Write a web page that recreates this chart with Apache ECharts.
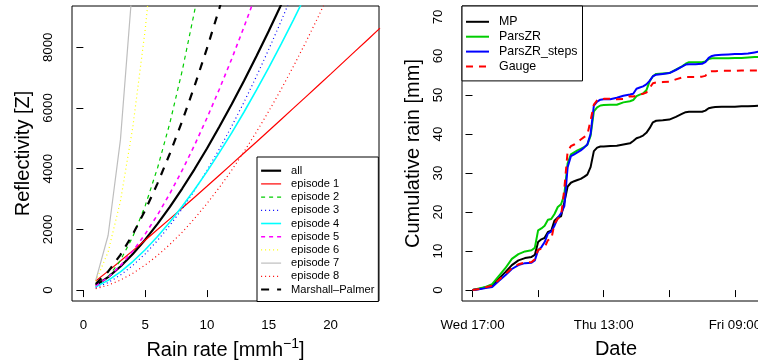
<!DOCTYPE html>
<html><head><meta charset="utf-8">
<script src="https://cdn.jsdelivr.net/npm/echarts@6/dist/echarts.min.js"></script>
<style>html,body{margin:0;padding:0;background:#fff}#c{width:758px;height:361px}</style>
</head><body><div id="c"></div>
<script>
// ---------- Left panel: Z-R relations ----------
const rainRate = [1,2,3,4,5,6,7,8,9,10,11,12,13,14,15,16,17,18,19,20,21,22,23,24];
const zAll = [151,424,776,1191,1661,2180,2742,3346,3988,4666,5379,6120,6899,7706,8539,9400,10288];
const zEp1 = [300,624,958,1299,1644,1994,2346,2702,3060,3420,3783,4149,4515,4881,5250,5622,5994,6366,6741,7116,7494,7872,8250,8631];
const zEp2 = [104,428,978,1759,2773,4022,5508,7233,9198,11404];
const zEp3 = [74,246,494,812,1193,1634,2131,2682,3286,3941,4645,5397,6193,7039,7931,8861,9836,10855];
const zEp4 = [109,320,601,940,1330,1765,2242,2760,3314,3903,4527,5182,5867,6586,7330,8102,8903,9732];
const zEp5 = [136,418,806,1285,1844,2478,3181,3949,4779,5670,6618,7616,8673,9777];
const zEp6 = [292,1252,2933,5367,8574,12574];
const zEp7 = [318,1799,4957,10176];
const zEp8 = [46,159,329,552,823,1141,1504,1910,2359,2850,3380,3950,4560,5207,5893,6615,7374,8170,9002,9867];
const zMP  = [200,606,1160,1838,2627,3516,4500,5572,6727,7962,9276,10658];
const rainTicks = [0,5,10,15,20];
const zTicks = [0,2000,4000,6000,8000];

// ---------- Right panel: cumulative rain ----------
const hours = [0,1,2,3,4,5,6,7,8,9,9.5,10,10.5,11,11.5,12,12.5,13,13.5,14,14.5,15,15.5,16,16.5,17,17.5,18,18.5,19,19.5,20,21,22,23,24,24.5,25,25.5,26,26.5,27,27.5,28,29,30,31,32,32.5,33,34,35,35.5,36,36.5,37,38,39,40,41,42,43,44];
const cumMP = [0,0.3,0.7,1.2,2.9,4.6,6.4,7.6,8.2,8.5,9.0,12.3,13.0,13.4,14.9,15.2,17.8,18.6,18.9,22.5,26.5,27.5,27.9,28.2,28.5,29.0,29.6,31.5,35.6,36.5,36.8,36.8,36.9,37.0,37.3,37.6,38.2,38.9,39.2,39.6,40.3,41.5,43.0,43.4,43.5,43.7,44.4,45.2,45.6,45.7,45.7,45.7,46.0,46.6,46.8,46.9,47.0,47.0,47.0,47.1,47.1,47.2,47.3];
const cumParsZR = [0,0.4,0.8,1.5,3.6,5.6,8.0,9.2,9.9,10.2,10.8,15.3,15.8,16.5,18.0,18.2,19.5,21.3,22.0,24.5,32.5,34.8,35.3,35.8,36.2,36.6,37.2,39.5,45.8,46.8,47.3,47.4,47.5,47.5,48.1,48.4,48.7,49.7,50.1,50.4,51.2,53.5,54.8,55.4,55.5,55.6,56.5,57.4,58.0,58.4,58.4,58.4,58.6,59.2,59.4,59.4,59.4,59.4,59.5,59.5,59.6,59.7,59.8];
const cumSteps = [0,0.2,0.5,0.8,2.3,3.8,5.4,6.4,6.9,7.0,7.6,10.2,11.0,12.3,14.5,15.0,16.5,18.5,19.7,21.5,31.5,34.3,34.8,35.3,35.8,36.5,37.3,40.0,47.3,48.3,48.8,48.9,48.9,49.3,49.8,50.1,50.3,51.6,51.9,52.2,52.7,53.6,54.8,55.2,55.4,55.6,56.4,57.3,57.8,57.9,57.9,58.0,58.4,59.5,60.0,60.2,60.3,60.4,60.5,60.5,60.6,60.9,61.2];
const cumGauge = [0,0.3,0.7,1.1,2.6,4.1,5.6,6.6,7.1,7.2,7.9,10.3,10.6,11.0,12.8,13.0,17.0,18.3,18.9,26.0,35.5,36.9,37.3,37.8,38.6,39.2,39.7,43.5,47.5,48.6,48.9,49.0,49.0,48.9,49.0,49.7,49.6,49.8,50.1,50.3,50.6,51.8,53.0,53.2,53.3,53.4,54.0,54.5,54.6,54.6,54.6,54.7,54.9,56.0,56.1,56.1,56.2,56.2,56.2,56.3,56.3,56.3,56.3];
const dateTickHours = [0,10,20,30,40];
const dateTickLabels = ['Wed 17:00','','Thu 13:00','','Fri 09:00'];
const rainTicksR = [0,10,20,30,40,50,60,70];

const FONT = 'Liberation Sans, Arial, Helvetica, sans-serif';
const pair = (xs, ys) => ys.map((y, i) => [xs[i], y]);

function zrSeries(name, data, color, width, type) {
  return {
    name, type: 'line', xAxisIndex: 0, yAxisIndex: 0,
    data: pair(rainRate, data), symbol: 'none', clip: true, silent: true,
    lineStyle: { color, width, type: type || 'solid' }, itemStyle: { color }
  };
}
function cumSeries(name, data, color, type) {
  return {
    name, type: 'line', xAxisIndex: 1, yAxisIndex: 1,
    data: pair(hours, data), symbol: 'none', clip: true, silent: true,
    lineStyle: { color, width: 2, type: type || 'solid' }, itemStyle: { color }
  };
}

const chart = echarts.init(document.getElementById('c'), null, { renderer: 'canvas' });
const tickStyle = { color: '#000', width: 1 };
const plain = v => String(v);
chart.setOption({
  animation: false,
  backgroundColor: '#fff',
  textStyle: { fontFamily: FONT },
  grid: [
    { left: 72, top: 6, width: 307, height: 295, show: true, borderColor: '#000', borderWidth: 1,
      backgroundColor: 'transparent', containLabel: false, outerBoundsMode: 'none' },
    { left: 462, top: 6, width: 308, height: 295, show: true, borderColor: '#000', borderWidth: 1,
      backgroundColor: 'transparent', containLabel: false, outerBoundsMode: 'none' }
  ],
  xAxis: [
    {
      gridIndex: 0, type: 'value', min: -0.92, max: 23.92,
      axisLine: { show: false }, splitLine: { show: false },
      axisTick: { show: true, customValues: rainTicks, length: 7, lineStyle: tickStyle },
      axisLabel: { customValues: rainTicks, margin: 18, fontSize: 13.3, color: '#000', fontFamily: FONT, formatter: plain },
      name: '{t|Rain rate [mmh}{s|\u22121}{t|]}', nameLocation: 'middle', nameGap: 31,
      nameTextStyle: { rich: {
        t: { fontSize: 20, fontFamily: FONT, color: '#000', lineHeight: 24, verticalAlign: 'bottom' },
        s: { fontSize: 14, fontFamily: FONT, color: '#000', verticalAlign: 'top' }
      } }
    },
    {
      gridIndex: 1, type: 'value', min: -1.6, max: 45.35,
      axisLine: { show: false }, splitLine: { show: false },
      axisTick: { show: true, customValues: dateTickHours, length: 7, lineStyle: tickStyle },
      axisLabel: { customValues: dateTickHours, margin: 18, fontSize: 13.3, color: '#000', fontFamily: FONT,
        hideOverlap: false, formatter: v => dateTickLabels[dateTickHours.indexOf(v)] || '' },
      name: 'Date', nameLocation: 'middle', nameGap: 38,
      nameTextStyle: { fontSize: 20, color: '#000', fontFamily: FONT }
    }
  ],
  yAxis: [
    {
      gridIndex: 0, type: 'value', min: -360, max: 9360,
      axisLine: { show: false }, splitLine: { show: false },
      axisTick: { show: true, customValues: zTicks, length: 7, lineStyle: tickStyle },
      axisLabel: { customValues: zTicks, rotate: 90, margin: 17, fontSize: 13.3, color: '#000', fontFamily: FONT, formatter: plain },
      name: 'Reflectivity [Z]', nameLocation: 'middle', nameRotate: 90, nameGap: 39,
      nameTextStyle: { fontSize: 20, color: '#000', fontFamily: FONT }
    },
    {
      gridIndex: 1, type: 'value', min: -2.8, max: 72.8,
      axisLine: { show: false }, splitLine: { show: false },
      axisTick: { show: true, customValues: rainTicksR, length: 7, lineStyle: tickStyle },
      axisLabel: { customValues: rainTicksR, rotate: 90, margin: 17, fontSize: 13.3, color: '#000', fontFamily: FONT, formatter: plain },
      name: 'Cumulative rain [mm]', nameLocation: 'middle', nameRotate: 90, nameGap: 39,
      nameTextStyle: { fontSize: 20, color: '#000', fontFamily: FONT }
    }
  ],
  legend: [
    {
      data: ['all','episode 1','episode 2','episode 3','episode 4','episode 5','episode 6','episode 7','episode 8','Marshall\u2013Palmer'],
      orient: 'vertical', left: 257, top: 157, itemGap: 2.2, itemWidth: 20, itemHeight: 13.1,
      padding: [8.2, 4, 6.5, 3], borderColor: '#000', borderWidth: 1, borderRadius: 0, backgroundColor: '#fff',
      selectedMode: false, lineStyle: { width: 'inherit' }, itemStyle: { opacity: 0 },
      textStyle: { fontSize: 11.1, color: '#000', fontFamily: FONT, padding: [0, 0, 0, 5] }
    },
    {
      data: ['MP','ParsZR','ParsZR_steps','Gauge'],
      orient: 'vertical', left: 462, top: 6, itemGap: 2.9, itemWidth: 23, itemHeight: 14.67,
      padding: [9.8, 5, 8.4, 3], borderColor: '#000', borderWidth: 1, borderRadius: 0, backgroundColor: '#fff',
      selectedMode: false, lineStyle: { width: 'inherit' }, itemStyle: { opacity: 0 },
      textStyle: { fontSize: 12.4, color: '#000', fontFamily: FONT, padding: [0, 0, 0, 5] }
    }
  ],
  series: [
    zrSeries('all', zAll, '#000000', 2.2),
    zrSeries('episode 1', zEp1, '#FF0000', 1.2),
    zrSeries('episode 2', zEp2, '#00CD00', 1.2, [4, 4]),
    zrSeries('episode 3', zEp3, '#0000FF', 1.2, [1, 3]),
    zrSeries('episode 4', zEp4, '#00FFFF', 1.6),
    zrSeries('episode 5', zEp5, '#FF00FF', 1.6, [4, 4]),
    zrSeries('episode 6', zEp6, '#FFFF00', 1.2, [1, 3]),
    zrSeries('episode 7', zEp7, '#BEBEBE', 1.2),
    zrSeries('episode 8', zEp8, '#FF0000', 1.2, [1, 3]),
    zrSeries('Marshall\u2013Palmer', zMP, '#000000', 2.2, [8, 8]),
    cumSeries('MP', cumMP, '#000000'),
    cumSeries('ParsZR', cumParsZR, '#00CD00'),
    cumSeries('ParsZR_steps', cumSteps, '#0000FF'),
    cumSeries('Gauge', cumGauge, '#FF0000', [7, 6])
  ]
});
</script>
</body></html>
